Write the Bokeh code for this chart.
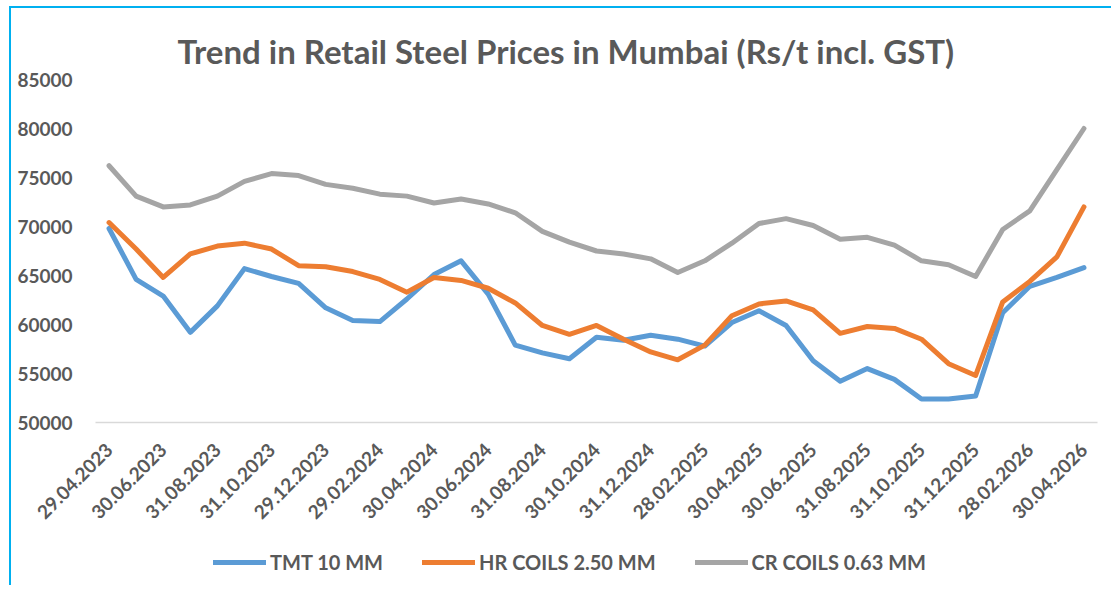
import math
from bokeh.plotting import figure
from bokeh.layouts import column
from bokeh.models import FixedTicker, Legend, LegendItem, Range1d
from bokeh.embed import file_html
from bokeh.resources import INLINE

dates = ["29.04.2023", "31.05.2023", "30.06.2023", "31.07.2023", "31.08.2023", "30.09.2023",
         "31.10.2023", "30.11.2023", "29.12.2023", "31.01.2024", "29.02.2024", "31.03.2024",
         "30.04.2024", "31.05.2024", "30.06.2024", "31.07.2024", "31.08.2024", "30.09.2024",
         "30.10.2024", "30.11.2024", "31.12.2024", "31.01.2025", "28.02.2025", "31.03.2025",
         "30.04.2025", "31.05.2025", "30.06.2025", "31.07.2025", "31.08.2025", "30.09.2025",
         "31.10.2025", "30.11.2025", "31.12.2025", "31.01.2026", "28.02.2026", "31.03.2026",
         "30.04.2026"]

tmt_10mm = [69800, 64600, 62900, 59200, 61900, 65700, 64900, 64200, 61700, 60400, 60300,
            62600, 65100, 66500, 63100, 57900, 57100, 56500, 58700, 58400, 58900, 58500,
            57800, 60200, 61400, 59900, 56300, 54200, 55500, 54400, 52400, 52400, 52700,
            61200, 63900, 64800, 65800]

hr_coils = [70400, 67700, 64800, 67200, 68000, 68300, 67700, 66000, 65900, 65400, 64600,
            63300, 64800, 64500, 63700, 62200, 59900, 59000, 59900, 58500, 57200, 56400,
            57900, 60900, 62100, 62400, 61500, 59100, 59800, 59600, 58500, 56000, 54800,
            62300, 64400, 66900, 72000]

cr_coils = [76200, 73100, 72000, 72200, 73100, 74600, 75400, 75200, 74300, 73900, 73300,
            73100, 72400, 72800, 72300, 71400, 69500, 68400, 67500, 67200, 66700, 65300,
            66500, 68300, 70300, 70800, 70100, 68700, 68900, 68100, 66500, 66100, 64900,
            69700, 71600, 75800, 80000]

series_names = ["TMT 10 MM", "HR COILS 2.50 MM", "CR COILS 0.63 MM"]
series_colors = ["#5B9BD5", "#ED7D31", "#A5A5A5"]
series_values = [tmt_10mm, hr_coils, cr_coils]

y_ticks = [50000, 55000, 60000, 65000, 70000, 75000, 80000, 85000]

FONT = "Lato"
TXT = "#595959"
W = 1100

x = list(range(len(dates)))

# ---- main chart ----
p = figure(width=W, height=533, output_backend="svg", toolbar_location=None,
           x_range=Range1d(-0.5, len(dates) - 0.5), y_range=Range1d(50000, 85000),
           min_border_left=84, min_border_right=14, min_border_top=71, min_border_bottom=119)

p.outline_line_color = None
p.background_fill_color = "white"
p.border_fill_color = "white"
p.xgrid.grid_line_color = None
p.ygrid.grid_line_color = None

p.title.text = "Trend in Retail Steel Prices in Mumbai (Rs/t incl. GST)"
p.title.text_font = FONT
p.title.text_font_size = "33px"
p.title.text_font_style = "bold"
p.title.text_color = TXT
p.title.align = "left"
p.title.offset = 82
p.title.standoff = 18

for vals, col in zip(series_values, series_colors):
    p.line(x, vals, line_color=col, line_width=5, line_cap="round", line_join="round")

xa = p.xaxis[0]
xa.ticker = FixedTicker(ticks=x[::2])
xa.major_label_overrides = {i: dates[i] for i in x[::2]}
xa.major_label_orientation = math.pi / 4
xa.major_label_text_font = FONT
xa.major_label_text_font_size = "19px"
xa.major_label_text_font_style = "bold"
xa.major_label_text_color = TXT
xa.major_tick_line_color = None
xa.minor_tick_line_color = None
xa.axis_line_color = "#D9D9D9"
xa.axis_line_width = 1.5
xa.major_label_standoff = 18

ya = p.yaxis[0]
ya.ticker = FixedTicker(ticks=y_ticks)
ya.major_label_text_font = FONT
ya.major_label_text_font_size = "19px"
ya.major_label_text_font_style = "bold"
ya.major_label_text_color = TXT
ya.major_tick_line_color = None
ya.minor_tick_line_color = None
ya.axis_line_color = None
ya.major_label_standoff = 17

# ---- legend strip ----
lg = figure(width=W, height=44, output_backend="svg", toolbar_location=None,
            x_range=Range1d(-0.5, len(dates) - 0.5), y_range=Range1d(50000, 85000),
            min_border=0, x_axis_location=None, y_axis_location=None)
lg.outline_line_color = None
lg.xgrid.grid_line_color = None
lg.ygrid.grid_line_color = None
lg.background_fill_color = "white"
lg.border_fill_color = "white"

items = []
for vals, name, col in zip(series_values, series_names, series_colors):
    r = lg.line(x, vals, line_color=col, line_width=5, line_cap="round", visible=False)
    items.append(LegendItem(label=name, renderers=[r]))

legend = Legend(items=items, orientation="horizontal", location=(118, 11),
                label_text_font=FONT, label_text_font_size="20px",
                label_text_font_style="bold", label_text_color=TXT,
                glyph_width=53, label_standoff=4, spacing=39,
                inactive_fill_alpha=0, click_policy="none",
                border_line_color=None, background_fill_alpha=0, margin=0, padding=4)
lg.add_layout(legend, "center")

layout = column(p, lg, spacing=0, margin=(6, 0, 0, 9),
                styles={"border-top": "2px solid #00B0F0", "border-left": "2px solid #00B0F0"})

open("out.html", "w").write(file_html(layout, INLINE))
